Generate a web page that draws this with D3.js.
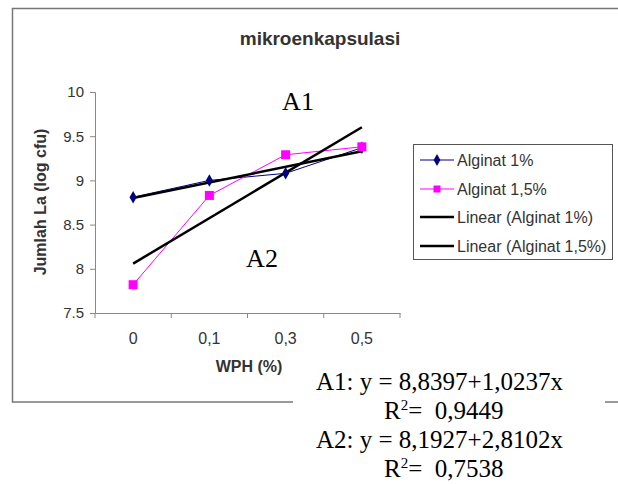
<!DOCTYPE html>
<html>
<head>
<meta charset="utf-8">
<script src="https://cdn.jsdelivr.net/npm/d3@7"></script>
<style>
  body { margin: 0; background: #fff; }
</style>
</head>
<body>
<div id="chart"></div>
<script>
var categories = ["0", "0,1", "0,3", "0,5"];
var alginat1 = [8.81, 9.00, 9.08, 9.37];
var alginat15 = [7.82, 8.83, 9.29, 9.38];
var yTicks = [7.5, 8, 8.5, 9, 9.5, 10];
var seriesNames = ["Alginat 1%", "Alginat 1,5%", "Linear (Alginat 1%)", "Linear (Alginat 1,5%)"];
var equationLines = ["A1: y = 8,8397+1,0237x", "R2= 0,9449", "A2: y = 8,1927+2,8102x", "R2= 0,7538"];

var W = 618, H = 484;
var sans = "Arial, 'Liberation Sans'";
var serif = "'Liberation Serif', 'Times New Roman'";
var svg = d3.select("#chart").append("svg")
  .attr("width", W).attr("height", H);

// outer chart frame
svg.append("rect")
  .attr("x", 12.5).attr("y", 8.5)
  .attr("width", 640).attr("height", 393.5)
  .attr("fill", "#fff").attr("stroke", "#777").attr("stroke-width", 1.5);

var x = d3.scaleBand().domain(categories).range([95, 400]);
var y = d3.scaleLinear().domain([7.5, 10]).range([313, 92]);

var xAxis = svg.append("g")
  .attr("transform", "translate(0,313)")
  .call(d3.axisBottom(x).tickSize(0).tickPadding(20));
xAxis.select(".domain").attr("stroke", "#888");
xAxis.selectAll("text").attr("font-family", sans).attr("font-size", 16).attr("fill", "#333");
// tick marks between categories
var bounds = [95].concat(categories.map(function(c) { return x(c) + x.bandwidth(); }));
xAxis.selectAll(".sep").data(bounds).enter().append("line")
  .attr("x1", function(d) { return d; }).attr("x2", function(d) { return d; })
  .attr("y1", 0).attr("y2", 5).attr("stroke", "#888");

var yAxis = svg.append("g")
  .attr("transform", "translate(95,0)")
  .call(d3.axisLeft(y).tickValues(yTicks).tickSize(5).tickPadding(6)
    .tickFormat(function(d) { return d; }));
yAxis.select(".domain").attr("stroke", "#888");
yAxis.selectAll("line").attr("stroke", "#888");
yAxis.selectAll("text").attr("font-family", sans).attr("font-size", 15).attr("fill", "#333");

svg.append("text")
  .attr("x", 320).attr("y", 45).attr("text-anchor", "middle")
  .attr("font-family", sans).attr("font-weight", "bold")
  .attr("font-size", 19).attr("fill", "#333").text("mikroenkapsulasi");

svg.append("text")
  .attr("transform", "translate(46,202) rotate(-90)").attr("text-anchor", "middle")
  .attr("font-family", sans).attr("font-weight", "bold")
  .attr("font-size", 16).attr("fill", "#333").text("Jumlah La (log cfu)");

svg.append("text")
  .attr("x", 249).attr("y", 372).attr("text-anchor", "middle")
  .attr("font-family", sans).attr("font-weight", "bold")
  .attr("font-size", 16).attr("fill", "#333").text("WPH (%)");

function cx(i) { return x(categories[i]) + x.bandwidth() / 2; }

var line = d3.line()
  .x(function(d, i) { return cx(i); })
  .y(function(d) { return y(d); });

svg.append("path").datum(alginat1).attr("d", line)
  .attr("fill", "none").attr("stroke", "#000080").attr("stroke-width", 1);
svg.append("path").datum(alginat15).attr("d", line)
  .attr("fill", "none").attr("stroke", "#ff00ff").attr("stroke-width", 1);

// least squares trend lines
function fit(vals) {
  var n = vals.length, xs = d3.range(1, n + 1);
  var mx = d3.mean(xs), my = d3.mean(vals);
  var num = d3.sum(xs, function(v, i) { return (v - mx) * (vals[i] - my); });
  var den = d3.sum(xs, function(v) { return (v - mx) * (v - mx); });
  var b = num / den, a = my - b * mx;
  return xs.map(function(v) { return a + b * v; });
}
[fit(alginat15), fit(alginat1)].forEach(function(t) {
  svg.append("line")
    .attr("x1", cx(0)).attr("y1", y(t[0]))
    .attr("x2", cx(t.length - 1)).attr("y2", y(t[t.length - 1]))
    .attr("stroke", "#000").attr("stroke-width", 2.5);
});

svg.selectAll(".dia").data(alginat1).enter().append("path")
  .attr("d", d3.symbol().type(d3.symbolDiamond).size(45))
  .attr("transform", function(d, i) { return "translate(" + cx(i) + "," + y(d) + ")"; })
  .attr("fill", "#000080");
svg.selectAll(".sq").data(alginat15).enter().append("rect")
  .attr("x", function(d, i) { return cx(i) - 4.5; })
  .attr("y", function(d) { return y(d) - 4.5; })
  .attr("width", 9).attr("height", 9).attr("fill", "#ff00ff");

svg.append("text").attr("x", 298).attr("y", 110).attr("text-anchor", "middle")
  .attr("font-family", serif).attr("font-size", 26).text("A1");
svg.append("text").attr("x", 262).attr("y", 267).attr("text-anchor", "middle")
  .attr("font-family", serif).attr("font-size", 26).text("A2");

// legend
var lg = svg.append("g");
lg.append("rect").attr("x", 413.5).attr("y", 144.5).attr("width", 199).attr("height", 115)
  .attr("fill", "#fff").attr("stroke", "#555").attr("stroke-width", 1);
var legColors = ["#000080", "#ff00ff", "#000", "#000"];
var legY = [160, 189, 217, 246];
seriesNames.forEach(function(name, i) {
  var ly = legY[i];
  lg.append("line").attr("x1", 420).attr("x2", 454).attr("y1", ly).attr("y2", ly)
    .attr("stroke", legColors[i]).attr("stroke-width", i < 2 ? 1 : 2.5);
  if (i === 0) {
    lg.append("path").attr("d", d3.symbol().type(d3.symbolDiamond).size(40))
      .attr("transform", "translate(437," + ly + ")").attr("fill", "#000080");
  } else if (i === 1) {
    lg.append("rect").attr("x", 433.5).attr("y", ly - 3.5).attr("width", 7).attr("height", 7).attr("fill", "#ff00ff");
  }
  lg.append("text").attr("x", 457).attr("y", ly + 5.5)
    .attr("font-family", sans).attr("font-size", 16).attr("fill", "#333")
    .text(name);
});

// equation text box
svg.append("rect").attr("x", 293).attr("y", 362).attr("width", 312).attr("height", 122).attr("fill", "#fff");
var eqX = [316, 384, 316, 384];
var eqY = [390, 419, 448, 477];
equationLines.forEach(function(t, i) {
  var tx = svg.append("text").attr("x", eqX[i]).attr("y", eqY[i])
    .attr("font-family", serif).attr("font-size", 25).attr("fill", "#000");
  if (t.indexOf("R2") === 0) {
    tx.append("tspan").text("R");
    tx.append("tspan").attr("dy", -9).attr("font-size", 15).text("2");
    tx.append("tspan").attr("dy", 9).text(t.slice(2).replace(" ", "\u00a0\u00a0"));
  } else {
    tx.text(t);
  }
});
</script>
</body>
</html>
